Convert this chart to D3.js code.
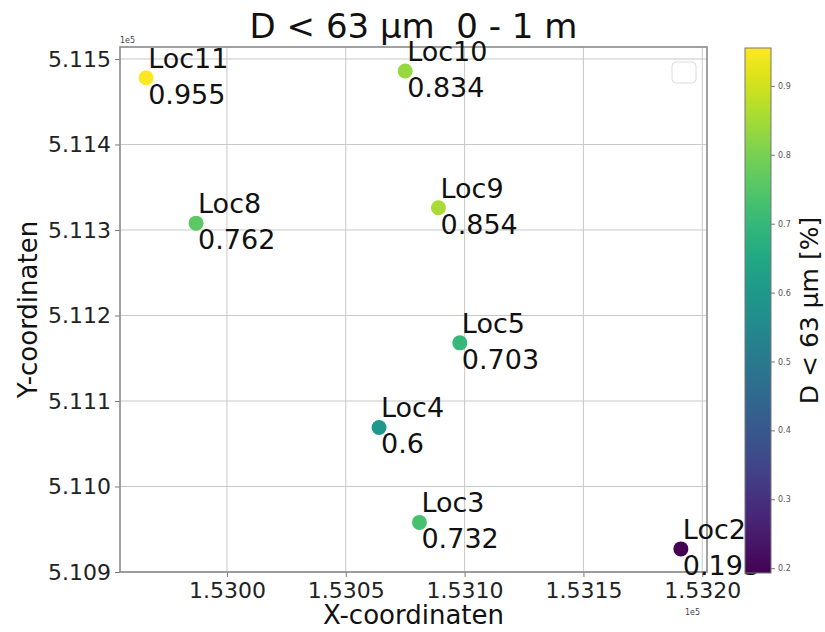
<!DOCTYPE html>
<html>
<head>
<meta charset="utf-8">
<script src="https://cdn.jsdelivr.net/npm/d3@7"></script>
<style>
  body { margin: 0; background: #fff; }
  svg { display: block; font-family: "DejaVu Sans", sans-serif; }
</style>
</head>
<body>
<div id="vis-container"></div>
<script>
// sample locations (coordinates in metres) and fraction D < 63 um
var locNames = ["Loc11", "Loc10", "Loc8", "Loc9", "Loc5", "Loc4", "Loc3", "Loc2"];
var xCoords  = [152966, 153075, 152987, 153089, 153098, 153064, 153081, 153191];
var yCoords  = [511478, 511486, 511308, 511326, 511168, 511069, 510958, 510927];
var fineFrac = [0.955, 0.834, 0.762, 0.854, 0.703, 0.6, 0.732, 0.193];

var xTicks  = [153000, 153050, 153100, 153150, 153200];
var yTicks  = [510900, 511000, 511100, 511200, 511300, 511400, 511500];
var cbTicks = [0.2, 0.3, 0.4, 0.5, 0.6, 0.7, 0.8, 0.9];

var width = 825, height = 632;
var plot = { left: 120, right: 707, top: 47, bottom: 572 };

var svg = d3.select("#vis-container")
  .append("svg")
  .attr("width", width)
  .attr("height", height);

var xScale = d3.scaleLinear().domain([152955, 153202]).range([plot.left, plot.right]);
var yScale = d3.scaleLinear().domain([510900, 511514]).range([plot.bottom, plot.top]);
var cMin = d3.min(fineFrac), cMax = d3.max(fineFrac);
var color = d3.scaleSequential(d3.interpolateViridis).domain([cMin, cMax]);

// grid
svg.append("g").selectAll("line").data(xTicks).enter().append("line")
  .attr("x1", d => xScale(d)).attr("x2", d => xScale(d))
  .attr("y1", plot.top).attr("y2", plot.bottom)
  .attr("stroke", "#c8c8c8").attr("stroke-width", 1);
svg.append("g").selectAll("line").data(yTicks).enter().append("line")
  .attr("y1", d => yScale(d)).attr("y2", d => yScale(d))
  .attr("x1", plot.left).attr("x2", plot.right)
  .attr("stroke", "#c8c8c8").attr("stroke-width", 1);

// axes
var xAxis = d3.axisBottom(xScale).tickValues(xTicks).tickSize(5).tickPadding(3)
  .tickFormat(d => (d / 1e5).toFixed(4));
var yAxis = d3.axisLeft(yScale).tickValues(yTicks).tickSize(5).tickPadding(4)
  .tickFormat(d => (d / 1e5).toFixed(3));

var gx = svg.append("g").attr("transform", "translate(0," + plot.bottom + ")").call(xAxis);
var gy = svg.append("g").attr("transform", "translate(" + plot.left + ",0)").call(yAxis);
[gx, gy].forEach(function(g) {
  g.select(".domain").remove();
  g.selectAll(".tick line").attr("stroke", "#777");
  g.selectAll(".tick text").attr("fill", "#222").style("font-size", "22px")
    .style("font-family", "DejaVu Sans");
});
gx.selectAll(".tick text").attr("dy", "0.82em");

// spines
svg.append("rect")
  .attr("x", plot.left).attr("y", plot.top)
  .attr("width", plot.right - plot.left).attr("height", plot.bottom - plot.top)
  .attr("fill", "none").attr("stroke", "#8a8a8a").attr("stroke-width", 1.6);

// empty legend
svg.append("rect")
  .attr("x", 672).attr("y", 62).attr("width", 24).attr("height", 21)
  .attr("rx", 4).attr("fill", "#fff").attr("stroke", "#dcdcdc");

// offset labels
svg.append("text").attr("x", plot.left).attr("y", 43).text("1e5")
  .style("font-size", "8px").attr("fill", "#444");
svg.append("text").attr("x", 700).attr("y", 615).attr("text-anchor", "end").text("1e5")
  .style("font-size", "8px").attr("fill", "#444");

// points
svg.append("g").selectAll("circle").data(locNames).enter().append("circle")
  .attr("cx", (d, i) => xScale(xCoords[i]))
  .attr("cy", (d, i) => yScale(yCoords[i]))
  .attr("r", 7.5)
  .attr("fill", (d, i) => color(fineFrac[i]));

// annotations
var ann = svg.append("g").selectAll("text").data(locNames).enter().append("text")
  .attr("x", (d, i) => xScale(xCoords[i]) + 2)
  .attr("y", (d, i) => yScale(yCoords[i]) - 10)
  .style("font-size", "27px").attr("fill", "#111");
ann.append("tspan").text(d => d);
ann.append("tspan")
  .attr("x", (d, i) => xScale(xCoords[i]) + 2)
  .attr("dy", 36)
  .text((d, i) => String(fineFrac[i]));

// titles
svg.append("text").attr("x", (plot.left + plot.right) / 2).attr("y", 38)
  .attr("text-anchor", "middle").style("font-size", "34px").attr("fill", "#111")
  .style("white-space", "pre")
  .text("D < 63 µm  0 - 1 m");
svg.append("text").attr("x", (plot.left + plot.right) / 2).attr("y", 624)
  .attr("text-anchor", "middle").style("font-size", "26px").attr("fill", "#111")
  .text("X-coordinaten");
svg.append("text").attr("transform", "translate(37," + ((plot.top + plot.bottom) / 2) + ") rotate(-90)")
  .attr("text-anchor", "middle").style("font-size", "26px").attr("fill", "#111")
  .text("Y-coordinaten");

// colorbar
var cb = { left: 745, right: 771, top: 48, bottom: 573 };
var cbScale = d3.scaleLinear().domain([cMin, cMax]).range([cb.bottom, cb.top]);
var grad = svg.append("defs").append("linearGradient")
  .attr("id", "cbgrad").attr("x1", 0).attr("x2", 0).attr("y1", 1).attr("y2", 0);
d3.range(0, 1.0001, 0.05).forEach(function(t) {
  grad.append("stop").attr("offset", t).attr("stop-color", d3.interpolateViridis(t));
});
svg.append("rect")
  .attr("x", cb.left).attr("y", cb.top)
  .attr("width", cb.right - cb.left).attr("height", cb.bottom - cb.top)
  .attr("fill", "url(#cbgrad)").attr("stroke", "#777").attr("stroke-width", 1);
var cbAxis = d3.axisRight(cbScale).tickValues(cbTicks).tickSize(4).tickPadding(3)
  .tickFormat(d3.format(".1f"));
var gcb = svg.append("g").attr("transform", "translate(" + cb.right + ",0)").call(cbAxis);
gcb.select(".domain").remove();
gcb.selectAll(".tick line").attr("stroke", "#777");
gcb.selectAll(".tick text").attr("fill", "#555").style("font-size", "8px")
  .style("font-family", "DejaVu Sans");
svg.append("text").attr("transform", "translate(818," + ((cb.top + cb.bottom) / 2) + ") rotate(-90)")
  .attr("text-anchor", "middle").style("font-size", "25px").attr("fill", "#111")
  .text("D < 63 µm [%]");
</script>
</body>
</html>
